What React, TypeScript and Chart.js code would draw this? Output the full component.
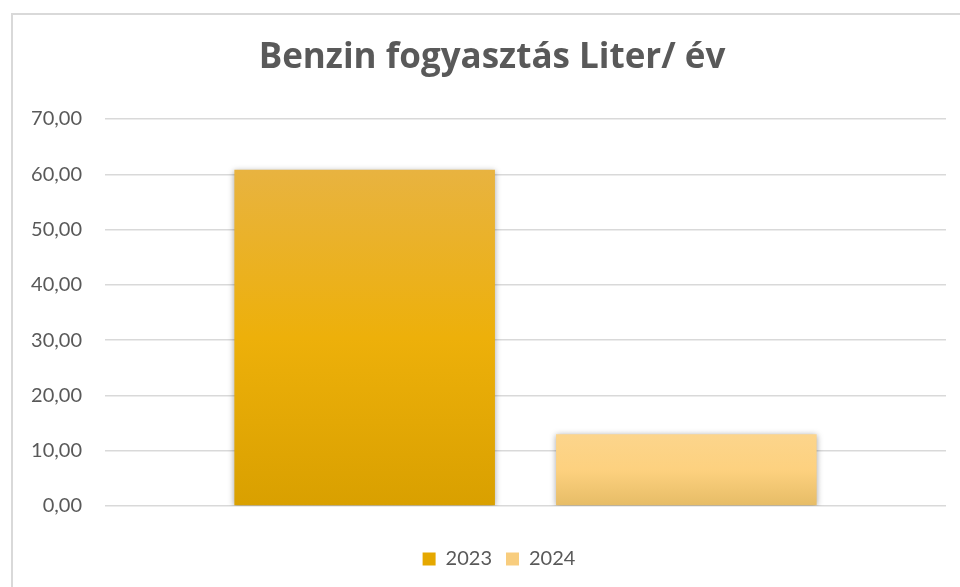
import React, { useEffect, useRef } from "react";
import { Chart, registerables } from "chart.js";

Chart.register(...registerables);

const categories = [""];
const seriesLabels = ["2023", "2024"];
const values2023 = [60.8];
const values2024 = [13.0];
const yTicks = [0, 10, 20, 30, 40, 50, 60, 70];

const gradStops: string[][] = [
  ["#E8B340", "#EDB00A", "#D9A000"],
  ["#FCD58C", "#FDD17F", "#E6BC66"],
];
const legendColors = ["#E5A800", "#F8CD7E"];

const FONT = "Lato, 'Open Sans', sans-serif";
const TITLE_FONT = "'Open Sans', Lato, sans-serif";

export default function App() {
  const ref = useRef<HTMLCanvasElement | null>(null);
  useEffect(() => {
    document.body.style.margin = "0";
    const canvas = ref.current!;
    const makeBg = (di: number) => (c: any) => {
      const chart = c.chart;
      const y = chart.scales?.y;
      if (!y || c.dataIndex === undefined || c.type !== "data") return legendColors[di];
      const v = c.raw as number;
      const top = y.getPixelForValue(v);
      const bot = y.getPixelForValue(0);
      if (!isFinite(top) || !isFinite(bot) || top === bot) return legendColors[di];
      const g = chart.ctx.createLinearGradient(0, top, 0, bot);
      g.addColorStop(0, gradStops[di][0]);
      g.addColorStop(0.5, gradStops[di][1]);
      g.addColorStop(1, gradStops[di][2]);
      return g;
    };
    const framePlugin = {
      id: "frame",
      afterLayout(chart: any) {
        // the original chart frame is wider than the visible crop: centre title/legend on it
        if (chart.titleBlock) chart.titleBlock.left += 38;
        if (chart.legend) chart.legend.left += 52;
      },
      beforeDraw(chart: any) {
        const ctx = chart.ctx;
        ctx.save();
        ctx.fillStyle = "#ffffff";
        ctx.fillRect(0, 0, chart.width, chart.height);
        ctx.strokeStyle = "#d9d9d9";
        ctx.lineWidth = 2;
        ctx.strokeRect(12, 14, chart.width + 20, chart.height + 20);
        ctx.restore();
      },
      beforeDatasetsDraw(chart: any) {
        const ctx = chart.ctx;
        ctx.save();
        ctx.shadowColor = "rgba(0,0,0,0.35)";
        ctx.shadowBlur = 6;
        ctx.shadowOffsetX = 0;
        ctx.shadowOffsetY = 1;
      },
      afterDatasetsDraw(chart: any) {
        chart.ctx.restore();
      },
    };
    const chart = new Chart(canvas, {
      type: "bar",
      data: {
        labels: categories,
        datasets: [
          { label: seriesLabels[0], data: values2023, backgroundColor: makeBg(0) as any },
          { label: seriesLabels[1], data: values2024, backgroundColor: makeBg(1) as any },
        ],
      },
      plugins: [framePlugin],
      options: {
        animation: false,
        responsive: false,
        maintainAspectRatio: false,
        layout: { padding: { left: 0, right: 14, top: 0, bottom: 8 } },
        datasets: { bar: { categoryPercentage: 0.765, barPercentage: 0.81 } },
        plugins: {
          title: {
            display: true,
            text: "Benzin fogyasztás Liter/ év",
            color: "#595959",
            font: { family: TITLE_FONT, size: 35, weight: "bold" },
            padding: { top: 37, bottom: 40 },
          },
          legend: {
            position: "bottom",
            labels: {
              color: "#595959",
              font: { family: FONT, size: 20 },
              boxWidth: 13,
              boxHeight: 13,
              padding: 14,
              generateLabels: (ch: any) =>
                ch.data.datasets.map((d: any, i: number) => ({
                  text: d.label,
                  fillStyle: legendColors[i],
                  strokeStyle: legendColors[i],
                  lineWidth: 0,
                  datasetIndex: i,
                  fontColor: "#595959",
                })),
            },
          },
          tooltip: { enabled: false },
        },
        scales: {
          x: {
            ticks: { display: false },
            grid: { display: false },
            border: { display: false },
            afterFit: (s: any) => { s.height = 29; },
          },
          y: {
            min: 0,
            max: 70,
            afterFit: (s: any) => { s.width = 105; },
            afterBuildTicks: (s: any) => { s.ticks = yTicks.map((v) => ({ value: v })); },
            ticks: {
              color: "#595959",
              font: { family: FONT, size: 20 },
              padding: 23,
              callback: (v: any) => Number(v).toFixed(2).replace(".", ","),
            },
            grid: { color: "#d9d9d9", lineWidth: 1.5, drawTicks: false },
            border: { display: false },
          },
        },
      },
    });
    return () => chart.destroy();
  }, []);
  return <canvas ref={ref} width={960} height={587} style={{ display: "block" }} />;
}
